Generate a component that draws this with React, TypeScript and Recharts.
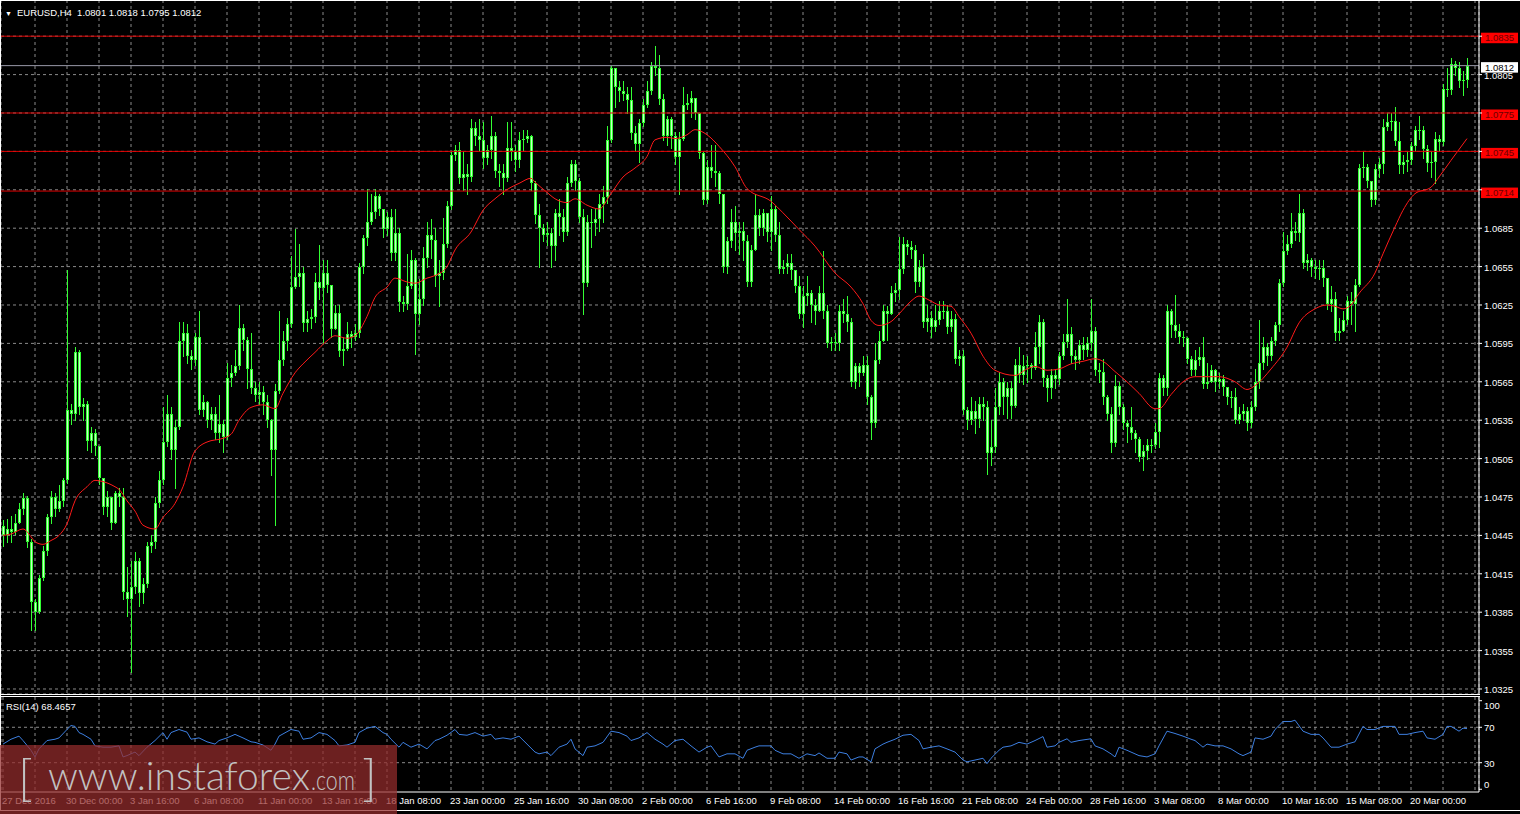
import { Bar, CartesianGrid, ComposedChart, Line, ReferenceLine, XAxis, YAxis } from 'recharts'

const FONT = "'Liberation Sans', Arial, sans-serif"
const LIME = '#33ff33'
const BODY = '#c8ffc8'
const RED = '#e00000'
const GRID = '#8a8a8a'

// EURUSD H4, prices written as pips above 1.0000
const firstOpen = 452
const closes = [
  445, 450, 448, 455, 466, 474, 440, 393, 385, 412, 433, 459, 475, 466, 472, 488, 543, 540, 588, 545,
  548, 519, 525, 515, 490, 467, 475, 455, 478, 475, 401, 395, 405, 425, 400, 407, 437, 440, 470, 488,
  518, 540, 512, 530, 597, 603, 585, 582, 600, 543, 549, 535, 540, 525, 532, 522, 568, 572, 577, 607,
  598, 575, 560, 555, 557, 549, 535, 512, 558, 582, 597, 610, 639, 647, 650, 611, 614, 616, 643, 638,
  650, 641, 606, 619, 589, 591, 602, 600, 603, 655, 677, 690, 698, 710, 700, 684, 694, 666, 681, 627,
  626, 640, 660, 618, 630, 662, 680, 676, 648, 650, 673, 702, 742, 746, 724, 727, 725, 763, 757, 754,
  740, 746, 757, 730, 728, 724, 748, 745, 738, 754, 755, 757, 720, 695, 685, 680, 681, 671, 697, 694,
  682, 720, 735, 722, 694, 642, 690, 689, 692, 704, 709, 754, 810, 795, 792, 790, 785, 759, 751, 767,
  781, 792, 812, 810, 786, 757, 770, 757, 741, 755, 781, 783, 787, 775, 744, 707, 733, 730, 728, 712,
  655, 675, 690, 681, 683, 675, 643, 668, 695, 685, 697, 682, 700, 680, 653, 655, 658, 652, 640, 618,
  632, 634, 625, 620, 634, 620, 595, 596, 595, 620, 618, 612, 565, 577, 572, 578, 553, 533, 582, 597,
  620, 618, 634, 637, 653, 673, 670, 668, 643, 655, 612, 615, 608, 613, 620, 620, 608, 614, 583, 585,
  543, 535, 542, 536, 548, 545, 509, 514, 545, 565, 553, 560, 546, 578, 570, 577, 578, 576, 592, 612,
  568, 560, 570, 567, 585, 596, 602, 585, 582, 594, 590, 595, 605, 574, 573, 553, 540, 517, 562, 545,
  533, 530, 525, 520, 506, 511, 516, 516, 526, 568, 560, 620, 609, 605, 600, 599, 583, 574, 582, 584,
  563, 565, 574, 565, 567, 561, 553, 553, 535, 540, 542, 533, 545, 565, 580, 592, 585, 597, 609, 642,
  667, 673, 683, 681, 697, 658, 660, 655, 653, 654, 646, 626, 630, 603, 605, 613, 628, 626, 641, 732,
  733, 722, 707, 731, 735, 764, 768, 769, 753, 734, 737, 738, 749, 762, 762, 747, 736, 737, 755, 752,
  794, 793, 813, 810, 800, 801, 812,
]
const highs = [
  457, 458, 460, 462, 470, 478, 476, 442, 395, 414, 437, 462, 480, 478, 484, 490, 652, 548, 592, 590,
  552, 550, 530, 528, 512, 490, 480, 470, 480, 482, 482, 420, 425, 432, 427, 412, 440, 445, 475, 495,
  545, 555, 545, 535, 612, 612, 610, 590, 603, 620, 555, 550, 545, 545, 555, 535, 580, 578, 590, 625,
  610, 600, 603, 565, 565, 562, 555, 536, 563, 620, 605, 615, 663, 684, 673, 655, 620, 622, 650, 672,
  660, 660, 625, 625, 625, 600, 612, 605, 610, 658, 680, 716, 712, 716, 712, 700, 698, 700, 700, 685,
  632, 665, 668, 662, 645, 670, 690, 692, 685, 660, 693, 706, 745, 750, 752, 745, 735, 770, 768, 770,
  768, 750, 773, 760, 735, 735, 768, 768, 750, 760, 762, 762, 758, 722, 704, 688, 690, 685, 700, 708,
  700, 725, 738, 738, 724, 700, 695, 700, 700, 712, 718, 765, 812, 808, 800, 800, 795, 795, 765, 770,
  786, 800, 815, 827, 820, 790, 773, 772, 760, 760, 795, 790, 792, 785, 775, 745, 738, 750, 750, 730,
  710, 678, 700, 702, 690, 690, 680, 672, 712, 700, 700, 690, 710, 702, 690, 660, 665, 665, 650, 648,
  640, 648, 637, 630, 640, 667, 625, 600, 603, 625, 630, 632, 615, 580, 580, 585, 585, 555, 595, 605,
  625, 624, 640, 642, 678, 678, 676, 675, 672, 660, 665, 625, 620, 625, 628, 628, 625, 620, 618, 590,
  590, 545, 553, 550, 553, 553, 550, 535, 560, 573, 568, 565, 566, 583, 592, 586, 585, 580, 604, 617,
  614, 570, 575, 575, 588, 602, 630, 608, 590, 598, 600, 600, 630, 608, 580, 583, 555, 545, 570, 565,
  548, 535, 545, 527, 522, 516, 520, 520, 533, 572, 570, 625, 622, 633, 610, 605, 600, 585, 590, 592,
  600, 580, 578, 575, 572, 570, 560, 558, 560, 545, 548, 545, 550, 575, 613, 600, 595, 600, 612, 645,
  682, 680, 697, 690, 712, 700, 665, 662, 660, 660, 660, 646, 640, 635, 615, 620, 632, 635, 645, 735,
  745, 735, 720, 735, 740, 770, 775, 775, 780, 768, 742, 745, 752, 765, 773, 765, 750, 745, 760, 758,
  798, 810, 818, 816, 815, 808, 818,
]
const lows = [
  437, 440, 440, 446, 455, 462, 436, 371, 371, 384, 410, 430, 455, 460, 464, 468, 486, 532, 535, 540,
  535, 512, 510, 508, 485, 462, 460, 450, 455, 468, 395, 382, 338, 400, 390, 392, 405, 432, 435, 467,
  485, 515, 505, 482, 528, 585, 580, 575, 578, 540, 538, 530, 528, 520, 518, 510, 520, 562, 570, 575,
  590, 560, 556, 550, 548, 540, 530, 492, 453, 556, 578, 590, 608, 638, 640, 605, 605, 607, 612, 630,
  595, 635, 600, 612, 585, 578, 590, 592, 598, 600, 650, 672, 688, 693, 695, 678, 680, 660, 660, 620,
  620, 622, 638, 587, 610, 625, 655, 662, 640, 624, 645, 670, 700, 738, 720, 715, 712, 722, 750, 745,
  732, 735, 740, 725, 718, 712, 722, 738, 730, 733, 745, 752, 715, 689, 655, 675, 672, 655, 660, 680,
  675, 680, 718, 715, 690, 618, 640, 670, 680, 683, 690, 705, 752, 780, 784, 785, 775, 755, 745, 737,
  765, 780, 790, 805, 782, 754, 750, 748, 735, 712, 754, 778, 772, 770, 740, 704, 705, 725, 718, 705,
  651, 650, 670, 668, 665, 660, 640, 640, 668, 680, 680, 675, 668, 675, 650, 650, 650, 645, 635, 615,
  608, 625, 612, 610, 620, 615, 592, 590, 590, 590, 612, 605, 562, 560, 562, 570, 548, 520, 530, 580,
  598, 598, 620, 628, 630, 650, 665, 662, 635, 640, 608, 605, 600, 605, 610, 615, 603, 605, 580, 578,
  540, 528, 532, 525, 530, 535, 493, 500, 510, 540, 540, 537, 537, 545, 565, 563, 565, 568, 575, 580,
  562, 550, 552, 560, 563, 583, 592, 580, 575, 580, 583, 585, 590, 570, 565, 548, 535, 510, 515, 540,
  528, 518, 520, 510, 503, 496, 505, 510, 513, 514, 555, 555, 600, 600, 595, 593, 580, 570, 570, 578,
  560, 560, 565, 558, 560, 555, 548, 545, 533, 533, 535, 527, 530, 543, 560, 575, 578, 582, 594, 605,
  640, 665, 670, 676, 675, 654, 652, 648, 646, 645, 640, 622, 620, 598, 598, 605, 610, 610, 605, 640,
  725, 717, 702, 704, 725, 728, 762, 762, 750, 728, 728, 730, 735, 745, 755, 740, 730, 725, 720, 745,
  750, 788, 790, 805, 795, 789, 795,
]

// moving average: [bar, pips]
const maPoints = [
  [0, 445], [2, 446], [5, 450], [7, 444], [8, 440], [10, 438], [12, 441], [14, 445], [16, 454], [18, 472],
  [21, 483], [23, 488], [25, 487], [28, 483], [29, 481], [31, 472], [33, 464], [35, 453], [38, 450], [40, 459],
  [43, 470], [45, 483], [48, 511], [52, 519], [54, 520], [57, 524], [59, 535], [62, 545], [65, 547], [68, 544],
  [70, 556], [73, 572], [75, 579], [78, 588], [81, 597], [83, 601], [86, 599], [88, 601], [91, 616], [93, 631],
  [96, 639], [98, 646], [101, 643], [103, 642], [106, 646], [108, 648], [111, 655], [113, 668], [117, 682], [120, 699],
  [123, 708], [127, 717], [129, 720], [132, 724], [133, 721], [136, 713], [138, 708], [141, 705], [143, 708], [146, 703],
  [149, 700], [152, 712], [155, 725], [158, 732], [161, 741], [163, 754], [166, 756], [168, 755], [171, 758], [173, 762],
  [176, 758], [179, 749], [183, 733], [186, 716], [192, 706], [195, 697], [199, 684], [203, 671], [208, 650], [212, 639],
  [215, 626], [217, 613], [219, 609], [222, 612], [224, 618], [227, 628], [229, 632], [232, 628], [234, 625], [237, 624],
  [239, 616], [242, 603], [245, 585], [248, 574], [253, 570], [256, 575], [258, 577], [261, 574], [264, 575], [267, 579],
  [270, 581], [273, 583], [275, 581], [278, 573], [281, 565], [284, 556], [288, 544], [289, 544], [292, 555], [295, 565],
  [298, 569], [301, 569], [304, 569], [308, 565], [311, 559], [313, 562], [317, 575], [321, 592], [324, 611], [328, 622],
  [331, 625], [333, 624], [335, 622], [337, 625], [339, 634], [343, 650], [345, 665], [348, 686], [350, 699], [353, 712],
  [357, 717], [359, 725], [362, 738], [366, 755],
]

// RSI(14): [bar, value]
const rsiPoints = [
  [0, 51], [2, 56.5], [4, 60], [5, 55], [7, 44], [8, 36.5], [9, 45.6], [11, 55], [13, 56.5], [14, 58],
  [16, 67.5], [17, 72], [18, 71], [19, 64], [20, 62], [22, 56.5], [23, 49], [25, 47.5], [27, 47.5], [29, 49],
  [30, 36.5], [31, 38], [33, 42], [34, 38], [36, 47.5], [38, 55], [40, 64], [41, 56.5], [42, 64], [44, 67.5],
  [46, 64.5], [47, 56.5], [49, 58], [51, 53.6], [53, 51], [54, 55], [56, 58], [58, 62], [60, 58], [62, 53.6],
  [63, 53], [65, 50], [67, 44], [68, 51], [69, 60], [72, 67.5], [74, 65.6], [75, 56.5], [77, 58], [79, 64],
  [81, 62], [83, 55], [84, 49], [86, 50], [88, 53], [89, 64], [91, 69], [93, 71], [95, 64], [96, 62],
  [97, 56.5], [99, 47.5], [100, 53], [102, 47.5], [104, 51], [106, 45.6], [108, 55], [109, 56.5], [111, 61], [113, 67.5],
  [114, 62], [116, 61], [118, 64], [120, 60], [122, 62], [123, 56.5], [125, 58], [127, 56.5], [129, 60], [131, 51],
  [133, 42], [134, 40], [136, 42], [137, 38], [139, 47.5], [141, 51], [142, 56.5], [143, 45.6], [145, 38], [146, 47.5],
  [148, 49], [150, 53], [152, 65.6], [154, 64], [156, 60], [157, 55], [159, 58], [161, 64], [163, 56.5], [165, 51],
  [166, 47.5], [168, 55], [170, 56.5], [172, 49], [174, 42], [176, 47.5], [177, 49], [179, 36.5], [181, 40], [183, 40],
  [185, 35], [186, 44], [188, 47.5], [189, 49], [192, 49], [193, 44], [195, 40], [197, 40], [199, 35], [201, 40],
  [203, 38], [204, 41], [206, 35], [208, 35], [209, 42], [211, 40], [212, 33], [214, 36.5], [215, 36.5], [217, 31],
  [218, 45.6], [220, 51], [221, 53], [223, 56.5], [225, 61], [227, 62], [229, 55], [230, 45.6], [232, 47.5], [234, 49],
  [236, 45.6], [238, 42], [240, 33], [241, 31], [243, 33], [245, 35], [246, 29], [247, 35], [249, 44], [250, 47.5],
  [252, 49], [254, 53], [256, 51], [258, 55], [260, 59.5], [261, 47.5], [263, 49], [264, 53], [266, 57], [267, 53],
  [269, 55], [272, 57], [273, 49], [275, 45.6], [277, 40], [278, 36.5], [279, 47.5], [281, 44], [283, 40], [284, 38],
  [286, 36.5], [288, 40], [289, 49], [291, 65.6], [293, 63], [295, 60], [297, 56.5], [298, 55], [300, 47.5], [301, 51],
  [303, 49], [305, 49], [307, 45.6], [309, 40], [310, 38], [312, 42], [313, 58], [315, 56.5], [317, 60], [318, 67.5],
  [320, 76.5], [322, 76.5], [323, 78], [325, 65.6], [327, 62], [329, 62], [330, 58], [332, 47.5], [334, 47.5], [336, 51],
  [338, 53.6], [340, 71], [341, 67.5], [343, 67.5], [345, 71], [347, 71], [348, 71], [349, 62], [351, 62], [353, 64],
  [355, 65.6], [356, 58], [358, 56.5], [360, 62], [361, 71], [362, 71], [364, 65.6], [365, 69], [366, 68.5],
]

// one label every 16 bars
const timeLabels = [
  '27 Dec 2016', '30 Dec 00:00', '3 Jan 16:00', '6 Jan 08:00', '11 Jan 00:00', '13 Jan 16:00', '18 Jan 08:00',
  '23 Jan 00:00', '25 Jan 16:00', '30 Jan 08:00', '2 Feb 00:00', '6 Feb 16:00', '9 Feb 08:00', '14 Feb 00:00',
  '16 Feb 16:00', '21 Feb 08:00', '24 Feb 00:00', '28 Feb 16:00', '3 Mar 08:00', '8 Mar 00:00', '10 Mar 16:00',
  '15 Mar 08:00', '20 Mar 00:00',
]
const gridBars = [
  0, 8, 16, 24, 32, 40, 48, 56, 64, 72, 80, 88, 96, 104, 112, 120, 128, 136, 144, 152, 160, 168, 176, 184,
  192, 200, 208, 216, 224, 232, 240, 248, 256, 264, 272, 280, 288, 296, 304, 312, 320, 328, 336, 344, 352, 360, 368,
]
const priceTicks = [
  1.0325, 1.0355, 1.0385, 1.0415, 1.0445, 1.0475, 1.0505, 1.0535, 1.0565, 1.0595,
  1.0625, 1.0655, 1.0685, 1.0715, 1.0745, 1.0775, 1.0805, 1.0835,
]
const levels = [1.0835, 1.0775, 1.0745, 1.0714]
const lastPrice = 1.0812
const rsiTicks = [0, 30, 70, 100]
const rsiLevels = [30, 70]
const header = 'EURUSD,H4  1.0801 1.0818 1.0795 1.0812'
const rsiTitle = 'RSI(14) 68.4657'

const toPrice = (v: number) => 1 + v / 10000
const bars = closes.map((c, i) => {
  const o = i === 0 ? firstOpen : closes[i - 1]
  return {
    i,
    o: toPrice(o),
    c: toPrice(c),
    h: toPrice(Math.max(highs[i], o, c)),
    l: toPrice(Math.min(lows[i], o, c)),
    ma: null as number | null,
  }
})
maPoints.forEach(([i, v]) => {
  bars[i].ma = toPrice(v)
})
const rsiData = rsiPoints.map(([i, v]) => ({ i, rsi: v }))

function Candle(props: any) {
  const { x, y, width, height, payload } = props
  if (!payload || !Number.isFinite(y) || !Number.isFinite(height)) return <g />
  const { o, c, h, l } = payload
  const cx = Math.round(x + width / 2)
  const top = Math.min(y, y + height)
  const bot = Math.max(y, y + height)
  const at = (v: number) => (h === l ? top : top + ((h - v) / (h - l)) * (bot - top))
  const bTop = Math.round(at(Math.max(o, c)))
  const bh = Math.max(1, Math.round(at(Math.min(o, c))) - bTop)
  return (
    <g>
      <line x1={cx + 0.5} x2={cx + 0.5} y1={Math.round(top)} y2={Math.round(bot) + 1} stroke={LIME} />
      <rect x={cx - 1} y={bTop} width={3} height={bh} fill={LIME} />
      {bh > 2 && <rect x={cx} y={bTop + 1} width={1} height={bh - 2} fill={BODY} />}
    </g>
  )
}

function PriceTick(p: any) {
  const v = p.payload.value
  if (levels.some((lv) => Math.abs(lv - v) < 0.00025)) return <g />
  return (
    <text x={p.x} y={p.y + 4} fill="#fff" fontSize={9.5} fontFamily={FONT}>
      {v.toFixed(4)}
    </text>
  )
}

function RsiTick(p: any) {
  const v = p.payload.value
  const dy = v === 100 ? 8 : v === 0 ? -1 : 4
  return (
    <text x={p.x} y={p.y + dy} fill="#fff" fontSize={9.5} fontFamily={FONT}>
      {v}
    </text>
  )
}

// inside the lower chart's own svg, whose top sits at page y 696
function TimeTick(p: any) {
  const i = p.payload.value
  if (i % 16 !== 0) return <g />
  return (
    <text x={p.x - 1} y={108} fill="#fff" fontSize={9.5} fontFamily={FONT}>
      {timeLabels[i / 16]}
    </text>
  )
}

const boxLabel = (text: string, bg: string, fg: string) => (p: any) => {
  const vb = p.viewBox
  const x = vb.x + vb.width + 2
  const y = vb.y
  return (
    <g>
      <rect x={x} y={y - 3.5} width={37} height={10.5} fill={bg} />
      <text x={x + 4} y={y + 5} fill={fg} fontSize={9.5} fontFamily={FONT}>
        {text}
      </text>
    </g>
  )
}

const hline = (left: number, top: number, width: number) => (
  <div style={{ position: 'absolute', left, top, width, height: 1, background: '#fff' }} />
)

export default function App() {
  return (
    <div style={{ position: 'absolute', left: 0, top: 0, width: 1520, height: 814, background: '#000', overflow: 'hidden', fontFamily: FONT }}>
      <div style={{ position: 'absolute', left: 0, top: 0 }}>
        <ComposedChart width={1520} height={695} data={bars} margin={{ top: 0, right: 0, bottom: 1, left: 1 }}>
          <CartesianGrid stroke={GRID} strokeDasharray="3 3" />
          <XAxis dataKey="i" type="number" domain={[-0.5, 369]} ticks={gridBars.slice(1)} interval={0} hide />
          <YAxis
            orientation="right"
            width={41}
            domain={[1.032109, 1.086328]}
            allowDataOverflow
            ticks={priceTicks}
            interval={0}
            tick={PriceTick}
            tickSize={3}
            tickLine={{ stroke: '#fff' }}
            axisLine={{ stroke: '#fff' }}
          />
          <Bar dataKey={(d: any) => [d.l, d.h]} barSize={3} shape={<Candle />} isAnimationActive={false} />
          <Line dataKey="ma" type="monotone" connectNulls stroke="#ff1a1a" strokeWidth={1} dot={false} activeDot={false} isAnimationActive={false} />
          {levels.map((lv) => (
            <ReferenceLine key={lv} y={lv} stroke={RED} strokeWidth={1} label={boxLabel(lv.toFixed(4), '#ff0000', '#6a0000')} />
          ))}
          <ReferenceLine y={lastPrice} stroke="#9a9aa8" strokeWidth={1} label={boxLabel(lastPrice.toFixed(4), '#ffffff', '#000000')} />
        </ComposedChart>
      </div>

      <div style={{ position: 'absolute', left: 0, top: 696 }}>
        <ComposedChart width={1520} height={118} data={rsiData} margin={{ top: 1, right: 0, bottom: 0, left: 1 }}>
          <CartesianGrid stroke={GRID} strokeDasharray="3 3" horizontal={false} />
          <XAxis
            dataKey="i"
            type="number"
            domain={[-0.5, 369]}
            ticks={gridBars}
            interval={0}
            height={22}
            tick={TimeTick}
            tickLine={false}
            axisLine={{ stroke: '#fff' }}
          />
          <YAxis
            orientation="right"
            width={41}
            domain={[-3.1, 104.2]}
            allowDataOverflow
            ticks={rsiTicks}
            interval={0}
            tick={RsiTick}
            tickSize={3}
            tickLine={{ stroke: '#fff' }}
            axisLine={{ stroke: '#fff' }}
          />
          {rsiLevels.map((v) => (
            <ReferenceLine key={v} y={v} stroke={GRID} strokeDasharray="3 3" />
          ))}
          <Line dataKey="rsi" type="linear" stroke="#3d7fe0" strokeWidth={1} dot={false} activeDot={false} isAnimationActive={false} />
        </ComposedChart>
      </div>

      {hline(0, 0, 1520)}
      {hline(0, 694, 1480)}
      {hline(0, 696, 1480)}
      {hline(0, 810, 1520)}
      <div style={{ position: 'absolute', left: 0, top: 0, width: 1, height: 810, background: '#fff' }} />

      <div style={{ position: 'absolute', left: 5, top: 7, color: '#fff', fontSize: 9.5, whiteSpace: 'pre' }}>
        <span style={{ fontSize: 7, marginRight: 5 }}>▼</span>
        {header}
      </div>
      <div style={{ position: 'absolute', left: 6, top: 701, color: '#fff', fontSize: 9.5, whiteSpace: 'pre' }}>{rsiTitle}</div>

      <svg style={{ position: 'absolute', left: 0, top: 745 }} width={397} height={69}>
        <rect x={0} y={0} width={397} height={69} fill="rgba(150,44,44,0.72)" />
        <g fill="#c2c2c2" fontFamily="Lato, 'Open Sans', sans-serif" fontWeight={300}>
          <text x={18} y={50} fontSize={50}>[</text>
          <text x={48} y={45} fontSize={40} textLength={262} lengthAdjust="spacingAndGlyphs">www.instaforex</text>
          <text x={311} y={45} fontSize={27} textLength={44} lengthAdjust="spacingAndGlyphs">.com</text>
          <text x={362} y={50} fontSize={50}>]</text>
        </g>
      </svg>
    </div>
  )
}
